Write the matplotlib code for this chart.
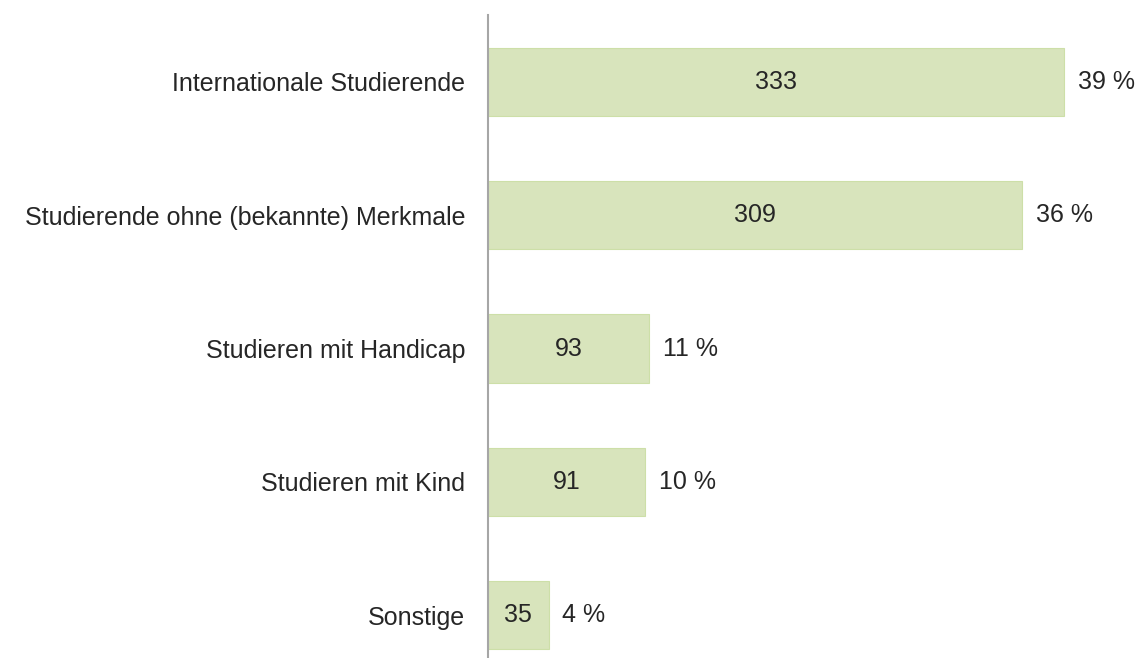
import matplotlib
matplotlib.use("Agg")
import matplotlib.pyplot as plt

categories = [
    "Internationale Studierende",
    "Studierende ohne (bekannte) Merkmale",
    "Studieren mit Handicap",
    "Studieren mit Kind",
    "Sonstige",
]
counts = [333, 309, 93, 91, 35]
shares = ["39 %", "36 %", "11 %", "10 %", "4 %"]

plt.rcParams["font.family"] = ["Liberation Sans", "DejaVu Sans"]
text_color = "#262626"

W, H = 1138, 658
fig = plt.figure(figsize=(W / 100, H / 100), dpi=100)
# axes from x=488px, top at 15px down to bottom of image
ax = fig.add_axes([488 / W, 0, 640 / W, (H - 15) / H])

y = list(range(len(categories)))
bars = ax.barh(y, counts, height=0.51, color="#d8e4bc", edgecolor="#cddfa8", linewidth=0.8)

for b, c, s in zip(bars, counts, shares):
    yc = b.get_y() + b.get_height() / 2
    ax.text(c / 2, yc, str(c), ha="center", va="center", fontsize=18, color=text_color)
    ax.text(c + 8, yc, s, ha="left", va="center", fontsize=18, color=text_color)

ax.set_ylim(4.32, -0.5)
ax.set_xlim(0, 370)
ax.set_yticks(y)
ax.set_yticklabels(categories, fontsize=18, color=text_color)
ax.tick_params(axis="y", length=0, pad=16.5)
ax.set_xticks([])
for side in ["top", "right", "bottom"]:
    ax.spines[side].set_visible(False)
ax.spines["left"].set_color("#a6a6a6")
ax.spines["left"].set_linewidth(1.5)

fig.savefig("out.png", dpi=100)
